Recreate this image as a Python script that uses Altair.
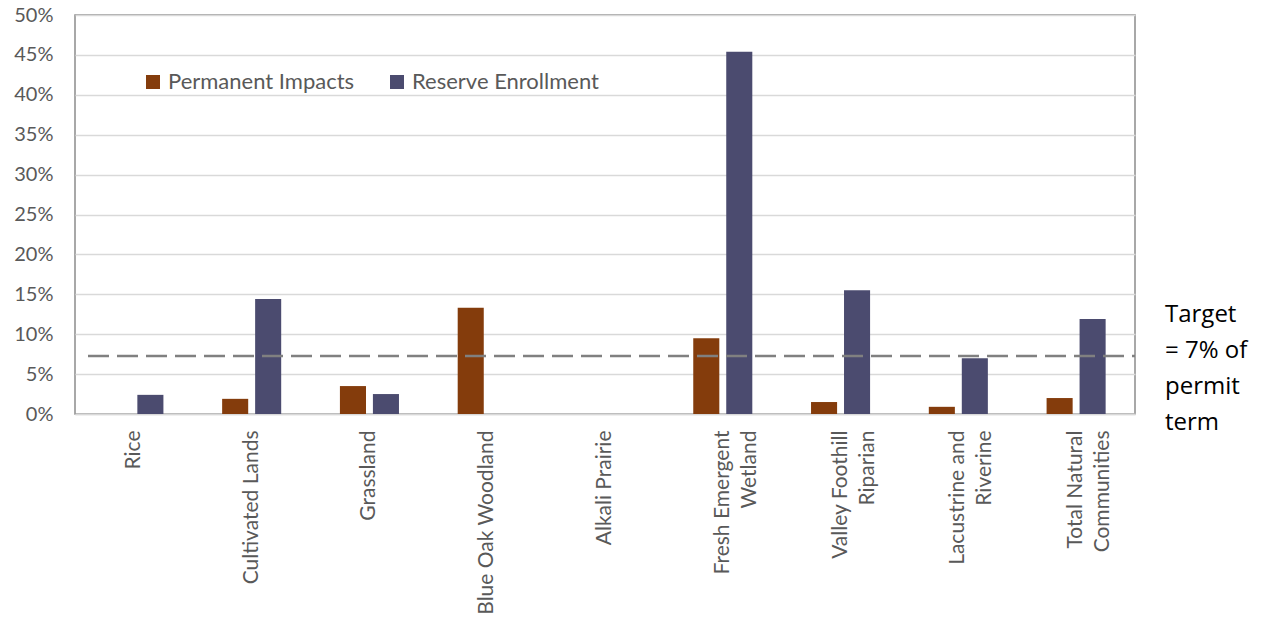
import json
import altair as alt
import pandas as pd

categories = ["Rice", "Cultivated Lands", "Grassland", "Blue Oak Woodland", "Alkali Prairie",
              "Fresh Emergent\nWetland", "Valley Foothill\nRiparian", "Lacustrine and\nRiverine",
              "Total Natural\nCommunities"]
series_names = ["Permanent Impacts", "Reserve Enrollment"]
permanent_impacts = [None, 0.019, 0.035, 0.133, None, 0.095, 0.015, 0.009, 0.020]
reserve_enrollment = [0.024, 0.144, 0.025, None, None, 0.454, 0.155, 0.070, 0.119]
target_value = [0.0727]
target_text = ["Target\n= 7% of\npermit\nterm"]
y_ticks = [0, 0.05, 0.10, 0.15, 0.20, 0.25, 0.30, 0.35, 0.40, 0.45, 0.50]
colors = ["#843C0C", "#4B4B6F"]

# visual centring of the shorter line in two-line axis labels (figure spaces)
FS = "\u2007"
centring = {
    "Fresh Emergent\nWetland": "Fresh Emergent|Wetland" + FS * 3,
    "Valley Foothill\nRiparian": "Valley Foothill|Riparian" + FS * 2,
    "Lacustrine and\nRiverine": "Lacustrine and|Riverine" + FS * 2,
    "Total Natural\nCommunities": "Total Natural|Communities",
}

rows = []
for c, p, r in zip(categories, permanent_impacts, reserve_enrollment):
    if p is not None:
        rows.append({"category": c, "series": series_names[0], "value": p})
    if r is not None:
        rows.append({"category": c, "series": series_names[1], "value": r})
df = pd.DataFrame(rows)

W, H = 1060, 399
FONT = "Lato"

idx_list = json.dumps(categories)
disp_list = json.dumps([centring.get(c, c) for c in categories])
label_expr = f"split({disp_list}[indexof({idx_list}, datum.value)], '|')"

y_scale = alt.Scale(domain=[0, 0.5], nice=False)
y_axis = alt.Axis(title=None, format=".0%", values=y_ticks, tickCount=20, labelFont=FONT,
                  labelFontSize=20, labelColor="#595959", labelPadding=22,
                  labelOverlap=False, labelBound=False,
                  ticks=False, domain=False, gridColor="#D9D9D9", gridWidth=1.5)

bars = alt.Chart(df).mark_bar().encode(
    x=alt.X("category:N", sort=categories,
            scale=alt.Scale(domain=categories, paddingInner=0, paddingOuter=0),
            axis=alt.Axis(title=None, labelAngle=270, labelExpr=label_expr,
                          labelFont=FONT, labelFontSize=21, labelColor="#595959",
                          labelLineHeight=27, labelPadding=16, ticks=False,
                          domainColor="#D9D9D9", domainWidth=1.5, labelLimit=400,
                          labelOverlap=False)),
    xOffset=alt.XOffset("series:N", sort=series_names,
                        scale=alt.Scale(domain=series_names, paddingInner=0.21, paddingOuter=0.89)),
    y=alt.Y("value:Q", scale=y_scale, axis=y_axis),
    color=alt.Color("series:N", sort=series_names,
                    scale=alt.Scale(domain=series_names, range=colors),
                    legend=alt.Legend(title=None, orient="none", legendX=67, legendY=56,
                                      direction="horizontal", symbolType="square",
                                      symbolSize=196, symbolStrokeWidth=0, labelFontSize=22,
                                      labelFont=FONT, labelColor="#595959", labelLimit=0,
                                      columnPadding=31, labelOffset=4)),
)

rule = alt.Chart(pd.DataFrame({"target": target_value})).mark_rule(
    color="#808080", strokeWidth=2.5, strokeDash=[21, 8]
).encode(y=alt.Y("target:Q", scale=y_scale, axis=y_axis), x=alt.value(13), x2=alt.value(W))

label = alt.Chart(pd.DataFrame({"t": target_text})).mark_text(
    align="left", baseline="alphabetic", fontSize=24, lineHeight=36,
    lineBreak="\n", font="Open Sans", color="#000000"
).encode(text="t:N", x=alt.value(1090), y=alt.value(307))

chart = alt.layer(bars, rule, label).properties(
    width=W, height=H,
    autosize=alt.AutoSizeParams(type="none"),
    padding={"left": 75, "top": 15, "right": 130, "bottom": 207},
).configure_view(stroke="#8C8C8C", strokeWidth=1.5)

chart.save("out.html", embed_options={"renderer": "svg", "actions": False})
